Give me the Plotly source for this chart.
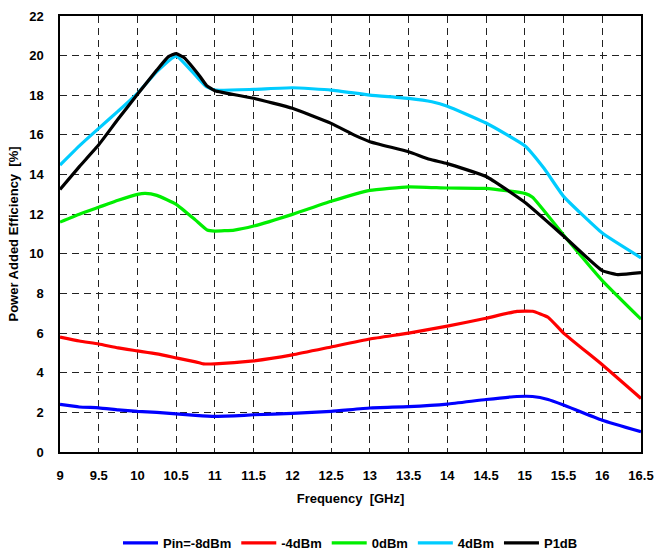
import plotly.graph_objects as go

freq_blue = [9, 9.25, 9.5, 9.75, 10, 10.25, 10.5, 10.75, 11, 11.25, 11.5, 12, 12.5, 13, 13.5, 14, 14.5, 14.9, 15.1, 15.3, 15.5, 16, 16.5]
pae_m8 = [2.4, 2.27, 2.23, 2.13, 2.05, 2.0, 1.92, 1.85, 1.8, 1.82, 1.88, 1.95, 2.05, 2.22, 2.29, 2.42, 2.65, 2.8, 2.8, 2.65, 2.37, 1.6, 1.02]

freq_red = [9, 9.25, 9.5, 9.75, 10, 10.25, 10.5, 10.75, 10.85, 11, 11.5, 12, 12.5, 13, 13.5, 14, 14.5, 14.9, 15.1, 15.3, 15.5, 16, 16.5]
pae_m4 = [5.8, 5.6, 5.45, 5.25, 5.1, 4.95, 4.75, 4.55, 4.45, 4.45, 4.6, 4.9, 5.3, 5.7, 6.0, 6.35, 6.75, 7.1, 7.1, 6.8, 6.0, 4.4, 2.7]

freq_green = [9, 9.25, 9.5, 9.75, 10, 10.1, 10.25, 10.5, 10.75, 10.9, 11, 11.25, 11.5, 12, 12.5, 13, 13.5, 14, 14.5, 15, 15.1, 15.5, 16, 16.5]
pae_0 = [11.6, 12.0, 12.35, 12.7, 13.0, 13.05, 12.95, 12.5, 11.7, 11.2, 11.15, 11.2, 11.4, 11.99, 12.65, 13.2, 13.38, 13.32, 13.3, 13.05, 12.85, 10.95, 8.65, 6.7]

freq_cyan = [9, 9.25, 9.5, 9.75, 10, 10.25, 10.5, 10.75, 10.89, 11, 11.5, 12, 12.5, 13, 13.5, 13.8, 14, 14.5, 15, 15.25, 15.5, 16, 16.5]
pae_4 = [14.48, 15.45, 16.33, 17.2, 18.1, 19.2, 19.98, 19.0, 18.43, 18.26, 18.3, 18.38, 18.26, 18.01, 17.84, 17.67, 17.45, 16.6, 15.45, 14.3, 12.9, 11.05, 9.8]

freq_black = [9, 9.25, 9.5, 9.75, 10, 10.25, 10.4, 10.5, 10.6, 10.81, 10.89, 11, 11.5, 12, 12.5, 12.8, 13, 13.5, 13.77, 14, 14.5, 15, 15.5, 16, 16.2, 16.5]
pae_p1 = [13.25, 14.4, 15.5, 16.8, 18.05, 19.27, 19.95, 20.1, 19.9, 18.93, 18.5, 18.23, 17.85, 17.34, 16.58, 15.99, 15.66, 15.15, 14.77, 14.55, 13.9, 12.6, 10.9, 9.15, 8.95, 9.05]

names = ["Pin=-8dBm", "-4dBm", "0dBm", "4dBm", "P1dB"]
colors = ["#0000FF", "#FF0000", "#00EE00", "#00CCFF", "#000000"]
series = [(freq_blue, pae_m8), (freq_red, pae_m4), (freq_green, pae_0), (freq_cyan, pae_4), (freq_black, pae_p1)]

x_ticks = [9, 9.5, 10, 10.5, 11, 11.5, 12, 12.5, 13, 13.5, 14, 14.5, 15, 15.5, 16, 16.5]
y_ticks = [0, 2, 4, 6, 8, 10, 12, 14, 16, 18, 20, 22]

fig = go.Figure()
for (xs, ys), n, c in zip(series, names, colors):
    fig.add_trace(go.Scatter(x=xs, y=ys, name=n, mode="lines",
                             line=dict(color=c, width=3.2, shape="spline", smoothing=0.4)))

font_family = "Liberation Sans, Arial, sans-serif"
fig.update_layout(
    width=656, height=551,
    margin=dict(l=60, r=15, t=16, b=99, autoexpand=False),
    paper_bgcolor="white", plot_bgcolor="white",
    font=dict(family=font_family, size=13, color="black"),
    showlegend=True,
    legend=dict(orientation="h", x=0.5, xanchor="center", xref="paper",
                y=(551 - 543) / 551, yref="container", yanchor="middle",
                font=dict(size=13, family=font_family, weight="bold"), itemwidth=35,
                traceorder="normal"),
    xaxis=dict(range=[9, 16.5], tickvals=x_ticks, ticktext=[f"<b>{t:g}</b>" for t in x_ticks],
               showgrid=True, gridcolor="#222", gridwidth=1, griddash="7px,5px",
               showline=True, linecolor="black", linewidth=1.5, mirror=True,
               zeroline=False, ticks="outside", ticklen=11, tickcolor="rgba(0,0,0,0)",
               tickfont=dict(size=13), automargin=False,
               title=dict(text="<b>Frequency  [GHz]</b>", font=dict(size=13), standoff=12)),
    yaxis=dict(range=[0, 22], tickvals=y_ticks, ticktext=[f"<b>{t}</b>" for t in y_ticks],
               showgrid=True, gridcolor="#222", gridwidth=1, griddash="7px,5px",
               showline=True, linecolor="black", linewidth=1.5, mirror=True,
               zeroline=False, ticks="outside", ticklen=12, tickcolor="rgba(0,0,0,0)",
               tickfont=dict(size=13), automargin=False,
               title=dict(text="<b>Power Added Efficiency  [%]</b>", font=dict(size=13), standoff=8)),
)
fig.write_html("out.html")
